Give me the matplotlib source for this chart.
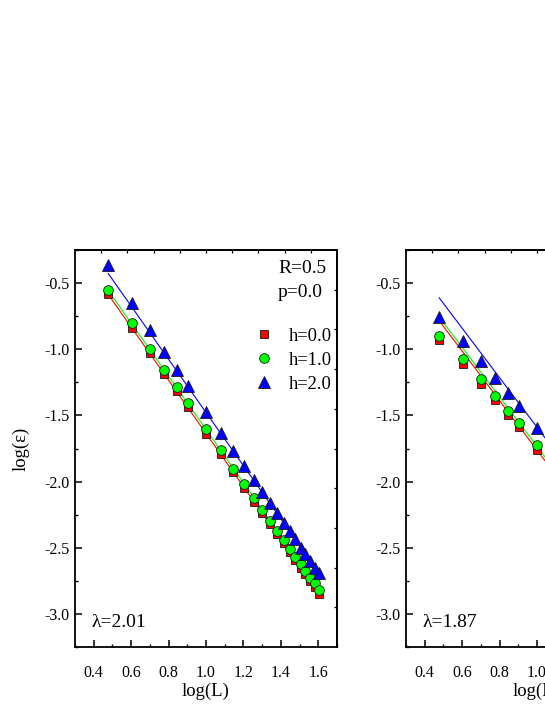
import numpy as np
import matplotlib
matplotlib.use("Agg")
import matplotlib.pyplot as plt
from matplotlib.ticker import MultipleLocator, FixedLocator, NullFormatter

plt.rcParams['font.family'] = ['Liberation Serif', 'DejaVu Serif']
plt.rcParams['axes.unicode_minus'] = False
plt.rcParams['mathtext.fontset'] = 'stix'

# ---------------- data ----------------
L = [3, 4, 5, 6, 7, 8, 10, 12, 14, 16, 18, 20, 22, 24, 26, 28, 30, 32, 34, 36, 38, 40]
h_labels = ['h=0.0', 'h=1.0', 'h=2.0']

# panel 1 (R=0.5, p=0.0)
p1_h0 = [-0.586, -0.836, -1.028, -1.184, -1.316, -1.437, -1.637, -1.795, -1.930, -2.048, -2.152,
         -2.240, -2.320, -2.396, -2.467, -2.535, -2.593, -2.650, -2.700, -2.750, -2.800, -2.846]
p1_h1 = [-0.553, -0.798, -0.998, -1.154, -1.288, -1.409, -1.604, -1.765, -1.904, -2.018, -2.124,
         -2.215, -2.295, -2.371, -2.442, -2.510, -2.568, -2.624, -2.674, -2.725, -2.770, -2.816]
p1_h2 = [-0.364, -0.649, -0.856, -1.020, -1.154, -1.275, -1.475, -1.634, -1.770, -1.886, -1.990,
         -2.080, -2.164, -2.240, -2.310, -2.370, -2.434, -2.500, -2.550, -2.600, -2.650, -2.690]
p1_slope = 2.01
p1_intercepts = [0.374, 0.404, 0.532]

# panel 2 (visible part only)
p2_h0 = [-0.932, -1.114, -1.260, -1.386, -1.495, -1.589, -1.760]
p2_h1 = [-0.902, -1.076, -1.227, -1.354, -1.465, -1.561, -1.727]
p2_h2 = [-0.755, -0.937, -1.089, -1.215, -1.331, -1.430, -1.596]
p2_slope = 1.87
p2_intercepts = [0.108, 0.136, 0.281]

colors = ['#ff0000', '#00ff00', '#0000ff']
markers = ['s', 'o', '^']
msizes = [5.8, 7.0, 8.6]

logL = np.log10(L)

W, H = 545, 705
fig = plt.figure(figsize=(W / 100, H / 100), dpi=100)

def px_axes(left, top, width, height):
    return fig.add_axes([left / W, (H - top - height) / H, width / W, height / H])

ax1 = px_axes(75, 250, 262, 397)
ax2 = px_axes(406, 250, 262, 397)

def style(ax, ylabel=True):
    ax.set_xlim(0.3, 1.7)
    ax.set_ylim(-3.25, -0.25)
    ax.xaxis.set_major_locator(MultipleLocator(0.2))
    ax.xaxis.set_minor_locator(MultipleLocator(0.1))
    ax.yaxis.set_major_locator(MultipleLocator(0.5))
    ax.yaxis.set_minor_locator(MultipleLocator(0.25))
    ax.xaxis.set_major_formatter(matplotlib.ticker.FormatStrFormatter('%.1f'))
    ax.yaxis.set_major_formatter(matplotlib.ticker.FormatStrFormatter('%.1f'))
    for s in ax.spines.values():
        s.set_linewidth(1.3)
    ax.tick_params(axis='both', which='major', direction='in', length=5, width=1.1,
                   labelsize=11.5)
    ax.tick_params(axis='x', which='major', pad=13)
    ax.tick_params(axis='y', which='major', pad=4)
    ax.tick_params(axis='both', which='minor', direction='in', length=2.5, width=1.0)
    top = ax.secondary_xaxis('top')
    top.xaxis.set_major_locator(FixedLocator(np.linspace(0.3, 1.7, 11)[1:-1]))
    top.xaxis.set_major_formatter(NullFormatter())
    top.tick_params(direction='in', length=2.2, width=0.9)
    top.spines['top'].set_linewidth(1.3)
    right = ax.secondary_yaxis('right')
    right.yaxis.set_major_locator(FixedLocator(np.linspace(-3.25, -0.25, 11)[1:-1]))
    right.yaxis.set_major_formatter(NullFormatter())
    right.tick_params(direction='in', length=2.2, width=0.9)
    right.spines['right'].set_linewidth(1.3)
    ax.set_xlabel('log(L)', fontsize=13.5)
    ax.xaxis.set_label_coords(0.5, -0.111)
    ax.xaxis.label.set_va('center')
    if ylabel:
        ax.set_ylabel('log(ε)', fontsize=13.5)
        ax.yaxis.set_label_coords(-0.205, 0.5)
        ax.yaxis.label.set_va('center')

def draw(ax, series, slope, intercepts, lam):
    xl = np.array([logL[0], logL[-1]])
    for i, ys in enumerate(series):
        ax.plot(xl, intercepts[i] - slope * xl, color=colors[i], lw=0.8, zorder=2)
    handles = []
    for i, ys in enumerate(series):
        h, = ax.plot(logL[:len(ys)], ys, linestyle='none', marker=markers[i],
                     ms=msizes[i], mfc=colors[i], mec='#1a1a1a', mew=0.6,
                     zorder=3 + i, label=h_labels[i])
        handles.append(h)
    ax.text(0.062, 0.051, 'λ=%s' % lam, transform=ax.transAxes, fontsize=14,
            ha='left', va='baseline')
    return handles

style(ax1, ylabel=True)
style(ax2, ylabel=False)

hs = draw(ax1, [p1_h0, p1_h1, p1_h2], p1_slope, p1_intercepts, '2.01')
draw(ax2, [p2_h0, p2_h1, p2_h2], p2_slope, p2_intercepts, '1.87')

ax1.text(0.775, 0.941, 'R=0.5', transform=ax1.transAxes, fontsize=14, ha='left', va='baseline')
ax1.text(0.775, 0.882, 'p=0.0', transform=ax1.transAxes, fontsize=14, ha='left', va='baseline')

leg = ax1.legend(handles=hs, loc='center left', bbox_to_anchor=(0.685, 0.722), frameon=False,
                 fontsize=13.3, handlelength=1.0, handletextpad=0.85, borderpad=0,
                 borderaxespad=0, labelspacing=0.38, numpoints=1)
leg.set_zorder(10)

fig.savefig('out.png', dpi=100)
